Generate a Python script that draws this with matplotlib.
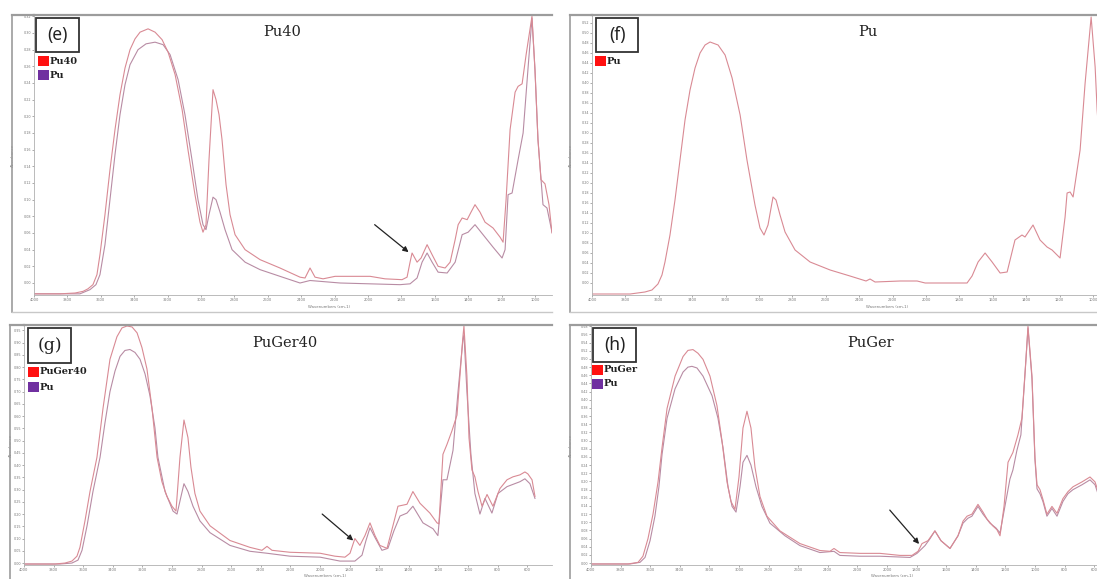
import matplotlib
matplotlib.use("Agg")
import matplotlib.pyplot as plt
from matplotlib.patches import Rectangle
from matplotlib.lines import Line2D
import numpy as np

# ---------------- data (wavenumber cm-1, absorbance) ----------------
# panel (e): Pu40 vs Pu
e_pu40_wn = [4000, 3844, 3754, 3706, 3677, 3647, 3623, 3605, 3575, 3545, 3515, 3485, 3455, 3425, 3395, 3365,
             3317, 3275, 3233, 3197, 3155, 3113, 3078, 3036, 3006, 2988, 2970, 2952, 2928, 2910, 2892, 2874,
             2850, 2826, 2796, 2736, 2646, 2527, 2407, 2377, 2347, 2317, 2269, 2197, 1987, 1898, 1796, 1766,
             1748, 1736, 1706, 1682, 1646, 1616, 1580, 1538, 1508, 1478, 1460, 1436, 1406, 1383, 1359, 1329,
             1299, 1251, 1209, 1191, 1173, 1149, 1119, 1101, 1077, 1053, 1018, 1000, 982, 964, 940, 916, 898]
e_pu40_ab = [-0.013, -0.013, -0.012, -0.010, -0.007, -0.002, 0.010, 0.034, 0.082, 0.136, 0.184, 0.226, 0.258,
             0.280, 0.293, 0.301, 0.305, 0.301, 0.292, 0.277, 0.250, 0.208, 0.160, 0.106, 0.073, 0.061, 0.070,
             0.148, 0.232, 0.220, 0.202, 0.172, 0.118, 0.082, 0.058, 0.040, 0.028, 0.018, 0.007, 0.006, 0.018,
             0.007, 0.005, 0.008, 0.008, 0.005, 0.004, 0.007, 0.025, 0.036, 0.025, 0.030, 0.046, 0.034, 0.020,
             0.018, 0.025, 0.052, 0.070, 0.078, 0.076, 0.085, 0.094, 0.085, 0.073, 0.066, 0.055, 0.049, 0.100,
             0.184, 0.229, 0.236, 0.239, 0.274, 0.320, 0.256, 0.172, 0.124, 0.119, 0.094, 0.060]
e_pu_wn = [4000, 3725, 3665, 3629, 3605, 3575, 3545, 3515, 3485, 3455, 3425, 3377, 3329, 3275, 3227, 3185,
           3137, 3096, 3054, 3018, 2988, 2970, 2952, 2928, 2910, 2886, 2856, 2814, 2736, 2646, 2527, 2407,
           2347, 2167, 1808, 1748, 1706, 1676, 1646, 1616, 1580, 1526, 1478, 1436, 1400, 1359, 1311, 1251,
           1197, 1179, 1161, 1137, 1101, 1071, 1041, 1018, 1000, 982, 952, 928, 898]
e_pu_ab = [-0.013, -0.013, -0.008, -0.002, 0.010, 0.046, 0.100, 0.154, 0.202, 0.238, 0.262, 0.280, 0.287,
           0.289, 0.286, 0.274, 0.244, 0.202, 0.148, 0.100, 0.070, 0.064, 0.082, 0.103, 0.100, 0.085, 0.064,
           0.040, 0.025, 0.016, 0.008, 0.000, 0.003, 0.000, -0.002, -0.001, 0.006, 0.025, 0.036, 0.025, 0.013,
           0.012, 0.025, 0.058, 0.061, 0.070, 0.058, 0.043, 0.030, 0.040, 0.106, 0.108, 0.148, 0.180, 0.259,
           0.318, 0.256, 0.172, 0.094, 0.090, 0.061]

# panel (f): Pu
f_pu_wn = [4000, 3772, 3683, 3641, 3605, 3581, 3563, 3533, 3503, 3473, 3443, 3413, 3383, 3353, 3323, 3293,
           3245, 3203, 3161, 3113, 3072, 3024, 2994, 2970, 2946, 2916, 2898, 2874, 2844, 2784, 2694, 2574,
           2455, 2359, 2335, 2305, 2155, 2053, 2005, 1754, 1724, 1688, 1646, 1604, 1556, 1514, 1467, 1425,
           1407, 1359, 1317, 1275, 1245, 1197, 1167, 1155, 1137, 1119, 1077, 1047, 1011, 987, 975, 958, 928, 898]
f_pu_ab = [-0.022, -0.022, -0.018, -0.014, -0.002, 0.016, 0.042, 0.096, 0.166, 0.246, 0.326, 0.386, 0.430,
           0.460, 0.476, 0.482, 0.476, 0.456, 0.410, 0.336, 0.246, 0.156, 0.110, 0.096, 0.116, 0.172, 0.166,
           0.136, 0.102, 0.066, 0.042, 0.026, 0.014, 0.004, 0.008, 0.002, 0.004, 0.004, 0.000, 0.000, 0.014,
           0.042, 0.060, 0.042, 0.020, 0.022, 0.086, 0.096, 0.092, 0.116, 0.086, 0.072, 0.066, 0.050, 0.132,
           0.180, 0.182, 0.172, 0.266, 0.400, 0.532, 0.432, 0.346, 0.266, 0.196, 0.116]

# panel (g): PuGer40 vs Pu
g_pg40_wn = [4000, 3791, 3723, 3676, 3642, 3622, 3588, 3554, 3507, 3466, 3419, 3372, 3338, 3304, 3270, 3236,
             3203, 3169, 3135, 3101, 3068, 3034, 3000, 2973, 2946, 2919, 2892, 2872, 2845, 2811, 2743, 2608,
             2473, 2392, 2358, 2324, 2203, 1999, 1899, 1831, 1797, 1764, 1730, 1696, 1662, 1628, 1595, 1547,
             1507, 1473, 1412, 1372, 1324, 1257, 1209, 1196, 1169, 1142, 1108, 1074, 1054, 1034, 1027, 1007,
             993, 973, 953, 932, 905, 871, 831, 784, 736, 696, 649, 615, 595, 567, 547]
g_pg40_ab = [-0.004, -0.004, 0.000, 0.008, 0.028, 0.064, 0.172, 0.292, 0.432, 0.632, 0.832, 0.924, 0.960,
             0.968, 0.964, 0.940, 0.880, 0.792, 0.632, 0.432, 0.332, 0.272, 0.232, 0.212, 0.432, 0.584, 0.512,
             0.392, 0.284, 0.212, 0.152, 0.092, 0.064, 0.052, 0.068, 0.052, 0.044, 0.040, 0.028, 0.024, 0.040,
             0.100, 0.072, 0.112, 0.164, 0.112, 0.072, 0.060, 0.152, 0.232, 0.240, 0.292, 0.244, 0.204, 0.164,
             0.160, 0.444, 0.484, 0.540, 0.604, 0.764, 0.924, 0.968, 0.764, 0.512, 0.380, 0.352, 0.292, 0.232,
             0.280, 0.232, 0.304, 0.340, 0.352, 0.360, 0.372, 0.364, 0.340, 0.272]
g_pu_wn = [4000, 3757, 3676, 3635, 3608, 3574, 3534, 3486, 3453, 3419, 3385, 3351, 3318, 3284, 3250, 3216,
           3182, 3149, 3115, 3095, 3047, 2993, 2966, 2939, 2919, 2892, 2858, 2811, 2743, 2608, 2473, 2358,
           2203, 1999, 1865, 1764, 1716, 1689, 1662, 1628, 1581, 1541, 1500, 1459, 1412, 1372, 1304, 1236,
           1203, 1169, 1142, 1101, 1067, 1034, 1027, 1007, 980, 953, 919, 885, 838, 797, 736, 649, 615, 581, 547]
g_pu_ab = [-0.004, -0.004, 0.000, 0.012, 0.052, 0.152, 0.292, 0.432, 0.572, 0.700, 0.784, 0.844, 0.868,
           0.872, 0.860, 0.832, 0.772, 0.684, 0.552, 0.432, 0.292, 0.212, 0.200, 0.272, 0.324, 0.292, 0.232,
           0.172, 0.124, 0.072, 0.048, 0.040, 0.028, 0.024, 0.008, 0.008, 0.032, 0.092, 0.144, 0.104, 0.052,
           0.060, 0.132, 0.192, 0.204, 0.232, 0.164, 0.140, 0.112, 0.340, 0.340, 0.460, 0.700, 0.912, 0.932,
           0.700, 0.444, 0.284, 0.200, 0.264, 0.204, 0.284, 0.312, 0.332, 0.344, 0.324, 0.264]

# panel (h): PuGer vs Pu
h_pg_wn = [4000, 3750, 3682, 3649, 3615, 3581, 3547, 3520, 3486, 3432, 3378, 3345, 3311, 3277, 3243, 3196,
           3149, 3115, 3081, 3054, 3027, 3000, 2973, 2946, 2919, 2892, 2858, 2811, 2723, 2588, 2453, 2385,
           2358, 2318, 2182, 2047, 1912, 1831, 1790, 1763, 1723, 1676, 1635, 1574, 1520, 1486, 1459, 1426,
           1385, 1351, 1324, 1284, 1257, 1236, 1209, 1182, 1149, 1115, 1088, 1061, 1047, 1020, 1000, 986,
           966, 946, 919, 885, 851, 811, 777, 743, 682, 628, 594, 561, 534]
h_pg_ab = [-0.002, -0.002, 0.002, 0.017, 0.060, 0.120, 0.199, 0.283, 0.379, 0.458, 0.506, 0.521, 0.523,
           0.514, 0.499, 0.458, 0.386, 0.300, 0.199, 0.151, 0.132, 0.211, 0.331, 0.372, 0.331, 0.235, 0.163,
           0.115, 0.079, 0.048, 0.031, 0.029, 0.036, 0.026, 0.024, 0.024, 0.019, 0.019, 0.029, 0.048, 0.055,
           0.079, 0.055, 0.036, 0.067, 0.103, 0.115, 0.120, 0.144, 0.125, 0.108, 0.091, 0.082, 0.067, 0.139,
           0.247, 0.271, 0.314, 0.355, 0.499, 0.580, 0.458, 0.259, 0.192, 0.180, 0.156, 0.120, 0.139, 0.122,
           0.158, 0.175, 0.187, 0.199, 0.211, 0.199, 0.163, 0.115]
h_pu_wn = [4000, 3736, 3669, 3635, 3601, 3568, 3541, 3520, 3486, 3432, 3378, 3345, 3318, 3284, 3243, 3182,
           3142, 3108, 3074, 3047, 3020, 2993, 2973, 2946, 2919, 2885, 2845, 2791, 2689, 2588, 2453, 2358,
           2318, 2182, 2047, 1844, 1797, 1743, 1709, 1676, 1635, 1574, 1520, 1486, 1453, 1426, 1385, 1351,
           1304, 1263, 1236, 1203, 1169, 1149, 1122, 1095, 1068, 1047, 1020, 1000, 986, 966, 946, 919, 885,
           851, 811, 777, 743, 682, 628, 594, 561, 534]
h_pu_ab = [-0.002, -0.002, 0.002, 0.014, 0.055, 0.115, 0.187, 0.266, 0.355, 0.427, 0.468, 0.480, 0.482,
           0.478, 0.458, 0.410, 0.355, 0.283, 0.187, 0.139, 0.125, 0.187, 0.247, 0.264, 0.240, 0.187, 0.139,
           0.098, 0.067, 0.043, 0.026, 0.029, 0.019, 0.017, 0.017, 0.014, 0.024, 0.043, 0.060, 0.079, 0.055,
           0.036, 0.067, 0.098, 0.110, 0.115, 0.139, 0.120, 0.098, 0.086, 0.074, 0.139, 0.206, 0.228, 0.276,
           0.314, 0.458, 0.576, 0.451, 0.254, 0.182, 0.170, 0.151, 0.115, 0.134, 0.115, 0.151, 0.170, 0.180,
           0.192, 0.204, 0.192, 0.156, 0.110]

panel_letters = ["(e)", "(f)", "(g)", "(h)"]
panel_titles = ["Pu40", "Pu", "PuGer40", "PuGer"]
legend_labels = [["Pu40", "Pu"], ["Pu"], ["PuGer40", "Pu"], ["PuGer", "Pu"]]
xticks_top = list(range(4000, 999, -200))
xticks_bottom = list(range(4000, 599, -200))
yticks_e = [round(0.02 * i, 2) for i in range(17)]
yticks_f = [round(0.02 * i, 2) for i in range(27)]
yticks_g = [round(0.05 * i, 2) for i in range(20)]
yticks_h = [round(0.02 * i, 2) for i in range(30)]

# ---------------- figure ----------------
W, H = 1097, 579
fig = plt.figure(figsize=(W / 100, H / 100), dpi=100)
fig.patch.set_facecolor("white")

def fx(x):
    return x / W

def fy(y):
    return 1 - y / H

def add_axes(x0, x1, y0, y1):
    return fig.add_axes([fx(x0), fy(y1), (x1 - x0) / W, (y1 - y0) / H])

SAMPLE_C = "#d98a94"
PU_C = "#b88ca4"
FRAME_C = "#9c9c9c"

panels = [
    dict(box=(34, 552, 15, 295), xlim=(4000, 898), ylim=(-0.0144, 0.3216), xt=xticks_top, yt=yticks_e,
         series=[(e_pu_wn, e_pu_ab, PU_C), (e_pu40_wn, e_pu40_ab, SAMPLE_C)], frame_x=12, ftop=15, fbot=312,
         xlab_y=-0.035),
    dict(box=(592, 1110, 15, 295), xlim=(4000, 898), ylim=(-0.024, 0.536), xt=xticks_top, yt=yticks_f,
         series=[(f_pu_wn, f_pu_ab, SAMPLE_C)], frame_x=570, ftop=15, fbot=312, xlab_y=-0.035),
    dict(box=(24, 552, 325, 565), xlim=(4000, 432), ylim=(-0.008, 0.972), xt=xticks_bottom, yt=yticks_g,
         series=[(g_pu_wn, g_pu_ab, PU_C), (g_pg40_wn, g_pg40_ab, SAMPLE_C)], frame_x=10, ftop=325, fbot=None,
         xlab_y=-0.036),
    dict(box=(591, 1119, 325, 565), xlim=(4000, 432), ylim=(-0.0045, 0.5832), xt=xticks_bottom, yt=yticks_h,
         series=[(h_pu_wn, h_pu_ab, PU_C), (h_pg_wn, h_pg_ab, SAMPLE_C)], frame_x=570, ftop=325, fbot=None,
         xlab_y=-0.036),
]

axes = []
for p in panels:
    x0, x1, y0, y1 = p["box"]
    ax = add_axes(x0, x1, y0, y1)
    for wn, ab, c in p["series"]:
        ax.plot(wn, ab, color=c, lw=0.8, solid_joinstyle="round")
    ax.set_xlim(*p["xlim"])
    ax.set_ylim(*p["ylim"])
    ax.set_xticks(p["xt"])
    ax.set_xticklabels([str(v) for v in p["xt"]], fontsize=2.6, color="#777777")
    ax.set_yticks(p["yt"])
    ax.set_yticklabels(["%.2f" % v for v in p["yt"]], fontsize=2.4, color="#777777")
    ax.tick_params(axis="both", length=1.5, width=0.5, colors="#888888", pad=0.8)
    ax.tick_params(axis="both", labelcolor="#777777")
    ax.spines["right"].set_visible(False)
    ax.spines["top"].set_color(FRAME_C)
    ax.spines["top"].set_linewidth(1.6)
    ax.spines["left"].set_color("#b0b0b0")
    ax.spines["left"].set_linewidth(0.6)
    ax.spines["bottom"].set_color("#b0b0b0")
    ax.spines["bottom"].set_linewidth(0.6)
    ax.set_xlabel("Wavenumbers (cm-1)", fontsize=2.8, color="#777777", labelpad=1)
    ax.xaxis.set_label_coords(0.57, p["xlab_y"])
    ax.set_ylabel("Absorbance", fontsize=2.8, color="#777777", labelpad=1)
    ax.patch.set_alpha(0)
    axes.append(ax)

    # outer frame
    fxl = p["frame_x"]
    fig.add_artist(Line2D([fx(fxl), fx(fxl)], [fy(p["ftop"]), fy(p["fbot"] if p["fbot"] else 579)],
                          transform=fig.transFigure, color=FRAME_C, lw=1.2))
    fig.add_artist(Line2D([fx(fxl), fx(x0)], [fy(p["ftop"]), fy(p["ftop"])],
                          transform=fig.transFigure, color=FRAME_C, lw=1.6))
    if p["fbot"]:
        fig.add_artist(Line2D([fx(fxl), fx(min(x1, 1097))], [fy(p["fbot"]), fy(p["fbot"])],
                              transform=fig.transFigure, color="#c8c8c8", lw=1.0))

# y-label positions near the outer frame
for ax, p in zip(axes, panels):
    x0, x1, y0, y1 = p["box"]
    ax.yaxis.set_label_coords((p["frame_x"] + 3 - x0) / (x1 - x0), 0.5)

# panel letter boxes
letter_boxes = [(36, 18, 79, 52), (596, 18, 638, 52), (28, 328, 71, 363), (593, 328, 636, 362)]
letter_fonts = ["Noto Sans", "Noto Sans", "DejaVu Serif", "Noto Sans"]
for (bx0, by0, bx1, by1), lab, fam in zip(letter_boxes, panel_letters, letter_fonts):
    fig.add_artist(Rectangle((fx(bx0), fy(by1)), (bx1 - bx0) / W, (by1 - by0) / H, transform=fig.transFigure,
                             facecolor="white", edgecolor="#333333", lw=1.3))
    fig.text(fx((bx0 + bx1) / 2), fy((by0 + by1) / 2), lab, ha="center", va="center", fontsize=12.5,
             family=fam, color="#222222")

# legends
legend_pos = [(38, [61, 75]), (595, [61]), (28, [372, 387]), (592, [370, 384])]
legend_cols = ["#ff1010", "#7030a0"]
for (lx, ys), labs in zip(legend_pos, legend_labels):
    for i, (yy, lab) in enumerate(zip(ys, labs)):
        fig.add_artist(Rectangle((fx(lx), fy(yy + 5)), 11 / W, 10 / H, transform=fig.transFigure,
                                 facecolor=legend_cols[i], edgecolor="none"))
        fig.text(fx(lx + 12), fy(yy), lab, ha="left", va="center", fontsize=7, family="DejaVu Serif",
                 weight="bold", color="#222222")

# titles
title_pos = [(263, 32), (858, 32), (252, 343), (847, 343)]
for (tx, ty), t in zip(title_pos, panel_titles):
    fig.text(fx(tx), fy(ty), t, ha="left", va="center", fontsize=10.5, family="DejaVu Serif", color="#222222")

# arrows pointing to new carbonyl band
arrow_specs = [(axes[0], (1757, 0.037), (1960, 0.070)),
               (axes[2], (1775, 0.092), (1985, 0.200)),
               (axes[3], (1783, 0.047), (1981, 0.130))]
for ax, tip, tail in arrow_specs:
    ax.annotate("", xy=tip, xytext=tail,
                arrowprops=dict(arrowstyle="-|>", color="#222222", lw=0.9, mutation_scale=8,
                                shrinkA=0, shrinkB=0))

fig.savefig("out.png", dpi=100)
